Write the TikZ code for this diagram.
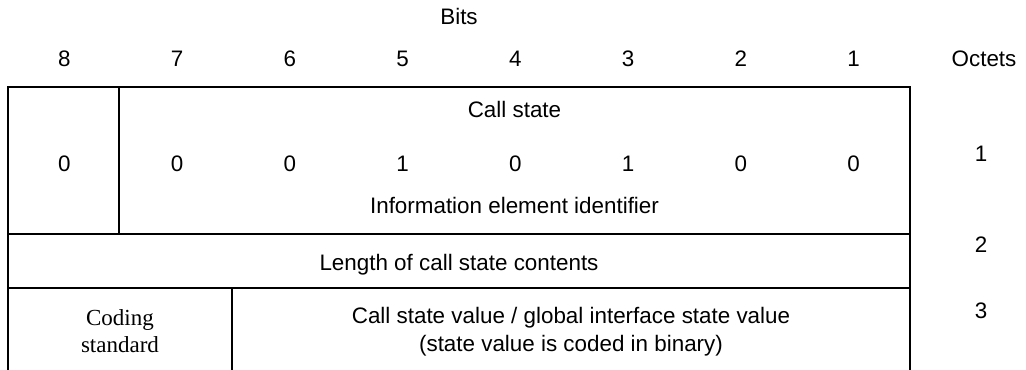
\documentclass[tikz,border=0pt]{standalone}
\usepackage{fontspec}
\setmainfont{Liberation Sans}
\newfontfamily\timesfont{Liberation Serif}
\begin{document}
\begin{tikzpicture}[x=0.5pt,y=-0.5pt,
  frame/.style={line width=1.25pt,line cap=rect},
  lbl/.style={inner sep=0pt,anchor=base,font=\fontsize{11.2}{14}\selectfont},
  serif/.style={inner sep=0pt,anchor=base,align=center,font=\timesfont\fontsize{11.5}{13.5}\selectfont}]
\useasboundingbox (0,0) rectangle (1026,369);

% header
\node[lbl] (bits) at (459,25) {Bits};
\foreach \b [count=\k from 0] in {8,7,6,5,4,3,2,1}
  \node[lbl] (h\b) at ({8+(\k+0.5)*112.75},67) {\b};
\node[lbl] (oct) at (984,67) {Octets};

% frame of the octet table
\coordinate (tl) at (8,87);
\coordinate (tr) at (910,87);
\coordinate (bl) at (8,369);
\coordinate (br) at (910,369);
\draw[frame] (bl) -- (tl) -- (tr) -- (br);
\draw[frame] (8,234) -- (910,234);
\draw[frame] (8,288) -- (910,288);
\draw[frame] (119,87) -- (119,234);
\draw[frame] (232,288) -- (232,369);

% octet 1
\node[lbl] (cs) at (514.5,118) {Call state};
\foreach \v [count=\k from 0] in {0,0,0,1,0,1,0,0}
  \node[lbl] (v\k) at ({8+(\k+0.5)*112.75},171) {\v};
\node[lbl] (iei) at (514.5,213) {Information element identifier};
\node[lbl] (o1) at (981,161) {1};

% octet 2
\node[lbl] (len) at (459,270) {Length of call state contents};
\node[lbl] (o2) at (981,252) {2};

% octet 3 (base anchor sits on the last line)
\node[serif] (cod) at (120,352) {Coding\\standard};
\node[lbl,align=center] (val) at (571,351) {Call state value / global interface state value\\(state value is coded in binary)};
\node[lbl] (o3) at (981,318) {3};
\end{tikzpicture}
\end{document}
